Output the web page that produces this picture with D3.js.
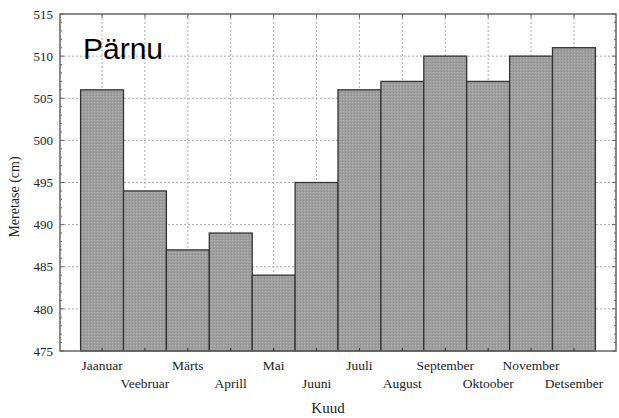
<!DOCTYPE html>
<html><head><meta charset="utf-8">
<script src="https://cdn.jsdelivr.net/npm/d3@7"></script>
<style>body{margin:0;background:#fff}</style></head>
<body><svg id="c" width="619" height="418"></svg>
<script>
const months = ["Jaanuar","Veebruar","Märts","Aprill","Mai","Juuni","Juuli","August","September","Oktoober","November","Detsember"];
const values = [506,494,487,489,484,495,506,507,510,507,510,511];
const yTicks = [475,480,485,490,495,500,505,510,515];

const svg = d3.select("#c");
const L=60,R=616,T=14,B=351;
const x = d3.scaleBand().domain(months).range([L,R]).paddingInner(0).paddingOuter(0.48);
const y = d3.scaleLinear().domain([475,515]).range([B,T]);

const defs = svg.append("defs");
const pat = defs.append("pattern").attr("id","tex").attr("patternUnits","userSpaceOnUse").attr("width",3).attr("height",3);
pat.append("rect").attr("width",3).attr("height",3).attr("fill","#9e9e9e");
pat.append("rect").attr("x",1).attr("y",0).attr("width",1).attr("height",1).attr("fill","#b4b4b4");
pat.append("rect").attr("x",0).attr("y",2).attr("width",1).attr("height",1).attr("fill","#8c8c8c");

// grid
svg.append("g").selectAll("line").data(yTicks.slice(1,-1)).join("line")
  .attr("x1",L).attr("x2",R).attr("y1",d=>y(d)).attr("y2",d=>y(d))
  .attr("stroke","#aaa").attr("stroke-dasharray","2,2");
svg.append("g").selectAll("line").data(months).join("line")
  .attr("x1",d=>x(d)+x.bandwidth()/2).attr("x2",d=>x(d)+x.bandwidth()/2).attr("y1",T).attr("y2",B)
  .attr("stroke","#aaa").attr("stroke-dasharray","2,2");

// bars
svg.append("g").selectAll("rect").data(values).join("rect")
  .attr("x",(d,i)=>x(months[i])).attr("width",x.bandwidth())
  .attr("y",d=>y(d)).attr("height",d=>B-y(d))
  .attr("fill","url(#tex)").attr("stroke","#333").attr("stroke-width",1.3);

// frame
svg.append("rect").attr("x",L).attr("y",T).attr("width",R-L).attr("height",B-T)
  .attr("fill","none").attr("stroke","#666").attr("stroke-width",1.5);

// axes ticks
const yAxis = d3.axisLeft(y).tickValues(yTicks).tickSize(0).tickPadding(7);
const gy = svg.append("g").attr("transform",`translate(${L},0)`).call(yAxis);
gy.select(".domain").remove();
gy.selectAll("text").attr("font-family","Liberation Serif").attr("font-size",13).attr("fill","#222");

const minor = d3.range(475,516,1);
svg.append("g").selectAll("line").data(minor).join("line")
  .attr("x1",L).attr("x2",d=>L+(d%5===0?4:2)).attr("y1",d=>y(d)).attr("y2",d=>y(d)).attr("stroke","#666");
svg.append("g").selectAll("line").data(minor).join("line")
  .attr("x1",R).attr("x2",d=>R-(d%5===0?4:2)).attr("y1",d=>y(d)).attr("y2",d=>y(d)).attr("stroke","#666");
svg.append("g").selectAll("line").data(months).join("line")
  .attr("x1",d=>x(d)+x.bandwidth()/2).attr("x2",d=>x(d)+x.bandwidth()/2).attr("y1",T).attr("y2",T+4).attr("stroke","#666");
svg.append("g").selectAll("line").data(months).join("line")
  .attr("x1",d=>x(d)+x.bandwidth()/2).attr("x2",d=>x(d)+x.bandwidth()/2).attr("y1",B).attr("y2",B-3).attr("stroke","#333");

// x labels
svg.append("g").selectAll("text").data(months).join("text")
  .attr("x",d=>x(d)+x.bandwidth()/2).attr("y",(d,i)=>i%2===0?370:388)
  .attr("text-anchor","middle").attr("font-family","Liberation Serif").attr("font-size",13.5).attr("fill","#222")
  .text(d=>d);

svg.append("text").attr("x",328).attr("y",413).attr("text-anchor","middle")
  .attr("font-family","Liberation Serif").attr("font-size",15).attr("fill","#222").text("Kuud");
svg.append("text").attr("transform",`translate(19,197) rotate(-90)`).attr("text-anchor","middle")
  .attr("font-family","Liberation Serif").attr("font-size",14).attr("fill","#222").text("Meretase (cm)");
svg.append("text").attr("x",83).attr("y",59).attr("font-family","Liberation Sans").attr("font-size",30).attr("fill","#000").text("Pärnu");
</script></body></html>
